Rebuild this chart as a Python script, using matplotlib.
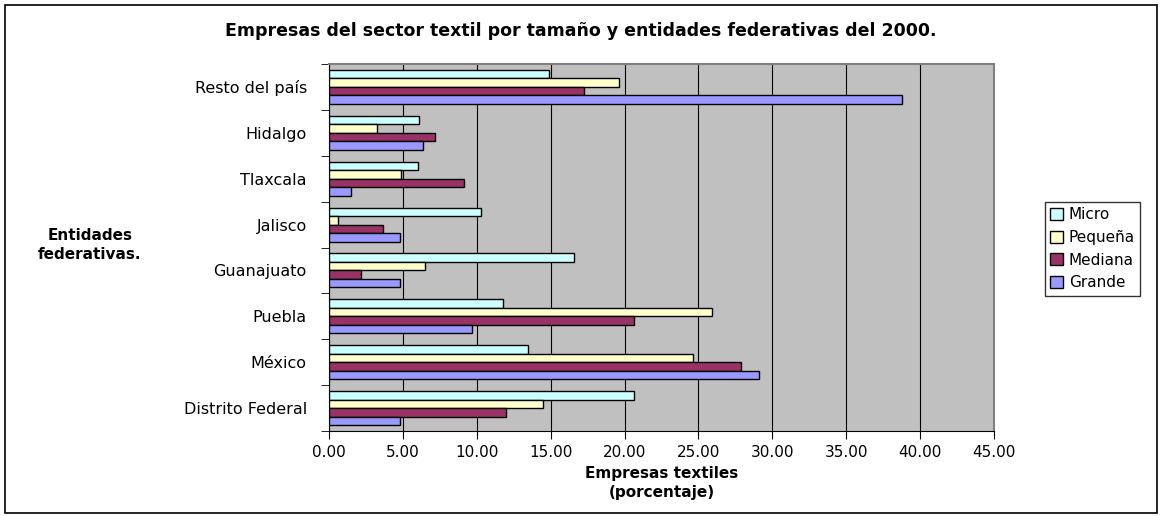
import matplotlib.pyplot as plt
import numpy as np
from matplotlib.patches import Rectangle

# DejaVu is wider than Arial, closer to the spaced-out Excel text
plt.rcParams['font.family'] = ['DejaVu Sans']

entidades = ["Distrito Federal", "México", "Puebla", "Guanajuato",
             "Jalisco", "Tlaxcala", "Hidalgo", "Resto del país"]
micro = [20.65, 13.46, 11.75, 16.6, 10.3, 5.99, 6.12, 14.9]
pequena = [14.5, 24.6, 25.9, 6.53, 0.61, 4.9, 3.23, 19.6]
mediana = [12.0, 27.9, 20.67, 2.17, 3.64, 9.13, 7.18, 17.25]
grande = [4.81, 29.1, 9.69, 4.81, 4.81, 1.52, 6.39, 38.8]

series = [("Micro", micro, "#CCFFFF"),
          ("Pequeña", pequena, "#FFFFCC"),
          ("Mediana", mediana, "#993366"),
          ("Grande", grande, "#9999FF")]

fig = plt.figure(figsize=(11.62, 5.16), dpi=100)
W, H = 1162, 516
ax = fig.add_axes([329 / W, 1 - 431 / H, (994 - 329) / W, (431 - 64) / H])
ax.set_facecolor("#C0C0C0")

y = np.arange(len(entidades))
bh = 0.185
for i, (name, vals, col) in enumerate(series):
    offs = (1.5 - i) * bh
    ax.barh(y + offs, vals, height=bh, color=col, edgecolor="black",
            linewidth=1.0, label=name, zorder=3)

ax.set_xlim(0, 45)
ax.set_ylim(-0.5, len(entidades) - 0.5)
ax.set_xticks(np.arange(0, 46, 5))
ax.set_xticklabels([f"{v:.2f}" for v in np.arange(0, 46, 5)], fontsize=11)
ax.set_yticks(y)
ax.set_yticklabels(entidades, fontsize=11.5)
ax.set_yticks(np.arange(-0.5, len(entidades), 1), minor=True)
ax.tick_params(axis="y", which="major", length=0, pad=16)
ax.tick_params(axis="y", which="minor", length=6, direction="out")
ax.tick_params(axis="x", length=6, direction="out", pad=4)
ax.grid(axis="x", color="black", linewidth=0.8, zorder=1)

for s in ["top", "right"]:
    ax.spines[s].set_color("#808080")
    ax.spines[s].set_linewidth(1.5)
ax.spines["left"].set_color("black")
ax.spines["bottom"].set_color("black")

fig.text(581 / W, 1 - 31 / H,
         "Empresas del sector textil por tamaño y entidades federativas del 2000.",
         ha="center", va="center", fontsize=12.5, fontweight="bold")
fig.text(90 / W, 1 - 245 / H, "Entidades\nfederativas.", ha="center",
         va="center", fontsize=11, fontweight="bold", linespacing=1.3)
fig.text(662 / W, 1 - 483 / H, "Empresas textiles\n(porcentaje)", ha="center",
         va="center", fontsize=11, fontweight="bold", linespacing=1.3)

leg = fig.legend(loc="upper left", bbox_to_anchor=(1045 / W, 1 - 202 / H),
                 fontsize=11, frameon=True, fancybox=False, handlelength=0.8,
                 handleheight=0.8, handletextpad=0.4, labelspacing=0.5,
                 borderpad=0.35, borderaxespad=0)
leg.get_frame().set_edgecolor("black")
leg.get_frame().set_linewidth(1.0)

fig.patches.append(Rectangle((5 / W, 3 / H), (1157 - 5) / W, (511 - 3) / H,
                             transform=fig.transFigure, fill=False,
                             edgecolor="black", linewidth=1.2))

fig.savefig("out.png", dpi=100)
